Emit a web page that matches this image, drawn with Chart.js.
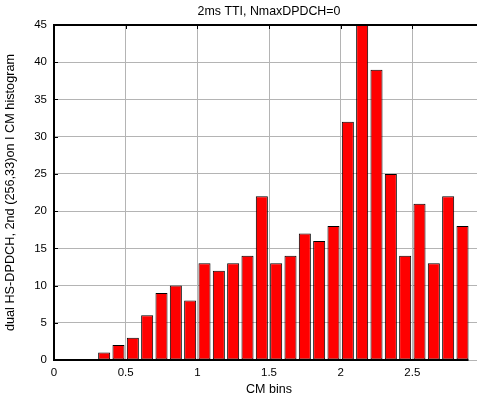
<!DOCTYPE html>
<html>
<head>
<meta charset="utf-8">
<script src="https://cdn.jsdelivr.net/npm/chart.js@4/dist/chart.umd.min.js"></script>
<style>
  html, body { margin: 0; padding: 0; background: #fff; width: 477px; height: 401px; overflow: hidden; }
  canvas { display: block; }
</style>
</head>
<body>
<canvas id="c" width="487" height="401"></canvas>
<script>
// Histogram bin centres (CM bins) and counts per bin
const binCenters = [0.05, 0.15, 0.25, 0.35, 0.45, 0.55, 0.65, 0.75, 0.85, 0.95,
                    1.05, 1.15, 1.25, 1.35, 1.45, 1.55, 1.65, 1.75, 1.85, 1.95,
                    2.05, 2.15, 2.25, 2.35, 2.45, 2.55, 2.65, 2.75, 2.85];
const counts = [0, 0, 0, 1, 2, 3, 6, 9, 10, 8,
                13, 12, 13, 14, 22, 13, 14, 17, 16, 18,
                32, 45, 39, 25, 14, 21, 13, 22, 18];

const xTicks = [0, 0.5, 1, 1.5, 2, 2.5];
const yTicks = [0, 5, 10, 15, 20, 25, 30, 35, 40, 45];

const titleText = '2ms TTI, NmaxDPDCH=0';
const xLabel = 'CM bins';
const yLabel = 'dual HS-DPDCH, 2nd (256,33)on I CM histogram';

const FONT = "'Liberation Sans', Arial, sans-serif";

// Axes frame: top border, bar baseline and inward tick marks
const framePlugin = {
  id: 'frame',
  afterDatasetsDraw(chart) {
    const { ctx, chartArea: a, scales: { x, y } } = chart;
    ctx.save();
    ctx.strokeStyle = '#000';
    ctx.lineWidth = 2;
    ctx.beginPath();
    ctx.moveTo(a.left - 1, a.top);
    ctx.lineTo(a.right, a.top);
    ctx.stroke();

    const bars = chart.getDatasetMeta(0).data;
    const last = bars[bars.length - 1];
    const y0 = y.getPixelForValue(0);
    ctx.beginPath();
    ctx.moveTo(x.getPixelForValue(0), y0);
    ctx.lineTo(last.x + last.width / 2, y0);
    ctx.stroke();

    ctx.lineWidth = 1;
    ctx.beginPath();
    yTicks.forEach(v => {
      const py = Math.round(y.getPixelForValue(v)) + 0.5;
      ctx.moveTo(a.left, py);
      ctx.lineTo(a.left + 4, py);
    });
    xTicks.forEach(v => {
      const px = Math.round(x.getPixelForValue(v)) + 0.5;
      ctx.moveTo(px, a.top);
      ctx.lineTo(px, a.top + 4);
    });
    ctx.stroke();
    ctx.restore();
  }
};

new Chart(document.getElementById('c'), {
  type: 'bar',
  data: {
    datasets: [{
      data: binCenters.map((c, i) => ({ x: c, y: counts[i] })),
      backgroundColor: '#ff0000',
      borderColor: '#000',
      borderWidth: 1,
      borderSkipped: false,
      categoryPercentage: 1,
      barPercentage: 0.84
    }]
  },
  options: {
    responsive: false,
    animation: false,
    layout: { padding: { left: 0, right: 3, top: 0, bottom: 4 } },
    plugins: {
      legend: { display: false },
      tooltip: { enabled: false },
      title: {
        display: true,
        fullSize: false,
        text: titleText,
        color: '#000',
        font: { family: FONT, size: 12.4, weight: 'normal' },
        padding: { top: 4, bottom: 6.12 }
      }
    },
    scales: {
      x: {
        type: 'linear',
        min: 0,
        max: 3,
        offset: false,
        afterBuildTicks(s) { s.ticks = xTicks.map(v => ({ value: v })); },
        afterFit(s) { s.height = 37; s.paddingRight = 0; },
        ticks: {
          color: '#000',
          font: { family: FONT, size: 11.5 },
          padding: 6,
          maxRotation: 0,
          autoSkip: false,
          callback: v => String(v)
        },
        grid: { color: '#b4b4b4', lineWidth: 1, drawTicks: false, offset: false },
        border: { display: false },
        title: {
          display: true,
          text: xLabel,
          color: '#000',
          font: { family: FONT, size: 12.5 },
          padding: { top: 0, bottom: 0 }
        }
      },
      y: {
        min: 0,
        max: 45,
        afterBuildTicks(s) { s.ticks = yTicks.map(v => ({ value: v })); },
        afterFit(s) { s.width = 54; },
        ticks: {
          color: '#000',
          font: { family: FONT, size: 11.5 },
          padding: 7,
          autoSkip: false,
          callback: v => String(v)
        },
        grid: { color: '#b4b4b4', lineWidth: 1, drawTicks: false },
        border: { display: true, color: '#000', width: 2 },
        title: {
          display: true,
          text: yLabel,
          color: '#000',
          font: { family: FONT, size: 12.7 },
          padding: { top: 3, bottom: 0 }
        }
      }
    }
  },
  plugins: [framePlugin]
});
</script>
</body>
</html>
